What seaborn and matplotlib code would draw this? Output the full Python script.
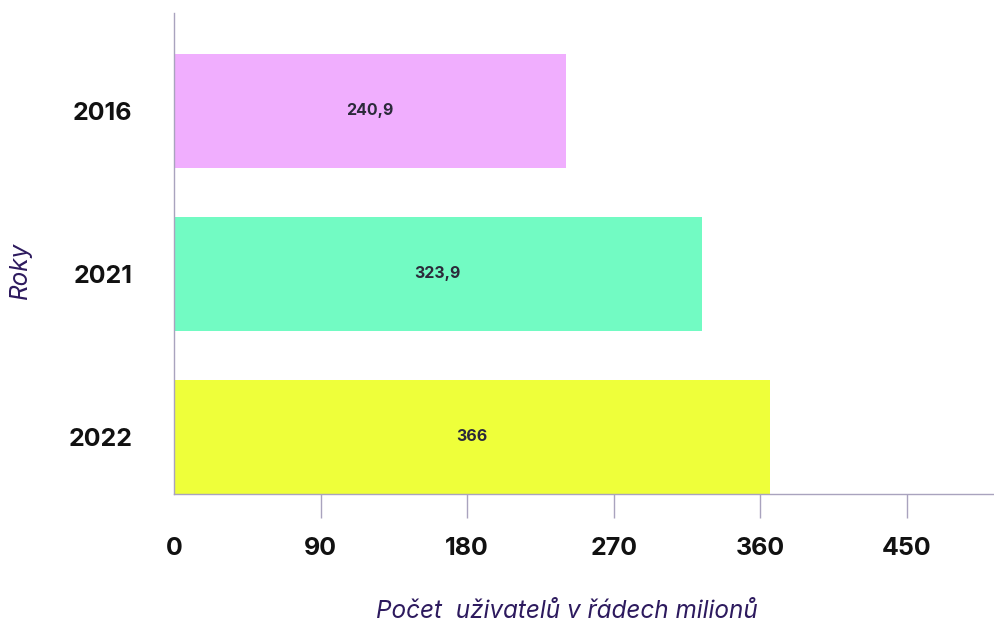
import matplotlib
matplotlib.use("Agg")
import matplotlib.pyplot as plt
import seaborn as sns
import pandas as pd

years = ["2016", "2021", "2022"]
users = [240.9, 323.9, 366]
bar_labels = ["240,9", "323,9", "366"]
colors = ["#F0AEFE", "#72FBC3", "#EEFF3A"]
x_ticks = [0, 90, 180, 270, 360, 450]

sns.set_theme(style="white")
plt.rcParams["font.family"] = ["Inter", "DejaVu Sans"]

df = pd.DataFrame({"Rok": years, "Uzivatele": users})

fig = plt.figure(figsize=(9.95, 6.26), dpi=100)
ax = fig.add_axes([174 / 995, 1 - 494 / 626, (995 - 174) / 995, (494 - 13) / 626])

sns.barplot(data=df, y="Rok", x="Uzivatele", hue="Rok", palette=colors,
            orient="h", width=0.7, legend=False, ax=ax, saturation=1,
            linewidth=0, edgecolor="none")

for patch, txt in zip(ax.patches, bar_labels):
    y = patch.get_y() + patch.get_height() / 2
    ax.text(patch.get_width() / 2, y, txt, ha="center", va="center",
            fontsize=11.5, fontweight="bold", color="#2B2A3A")

ax.set_xlim(0, 504)
ax.set_ylim(2.35, -0.60)
ax.set_xticks(x_ticks)
ax.set_xticklabels([str(t) for t in x_ticks])

spine_color = "#A9A3BE"
for side in ["top", "right"]:
    ax.spines[side].set_visible(False)
for side in ["left", "bottom"]:
    ax.spines[side].set_color(spine_color)
    ax.spines[side].set_linewidth(1.0)

ax.tick_params(axis="x", bottom=True, direction="out", length=17, width=1.0,
               color=spine_color, pad=14, labelsize=18, labelcolor="#111111")
ax.tick_params(axis="y", left=False, length=0, pad=30, labelsize=18,
               labelcolor="#111111")
for lbl in ax.get_xticklabels() + ax.get_yticklabels():
    lbl.set_fontweight("bold")
# the zero tick sits on the corner of the axes and is not drawn
ax.xaxis.get_major_ticks()[0].tick1line.set_visible(False)

label_color = "#2D1A5E"
ax.set_xlabel("Počet  uživatelů v řádech milionů", fontsize=17.5, style="italic",
              color=label_color)
ax.set_ylabel("Roky", fontsize=17.5, style="italic", color=label_color)
ax.xaxis.set_label_coords((567 - 174) / (995 - 174), -(612 - 494) / (494 - 13))
ax.yaxis.set_label_coords(-(174 - 20) / (995 - 174), (494 - 270) / (494 - 13))
ax.xaxis.label.set_va("center")
ax.yaxis.label.set_va("center")

fig.savefig("out.png", dpi=100)
